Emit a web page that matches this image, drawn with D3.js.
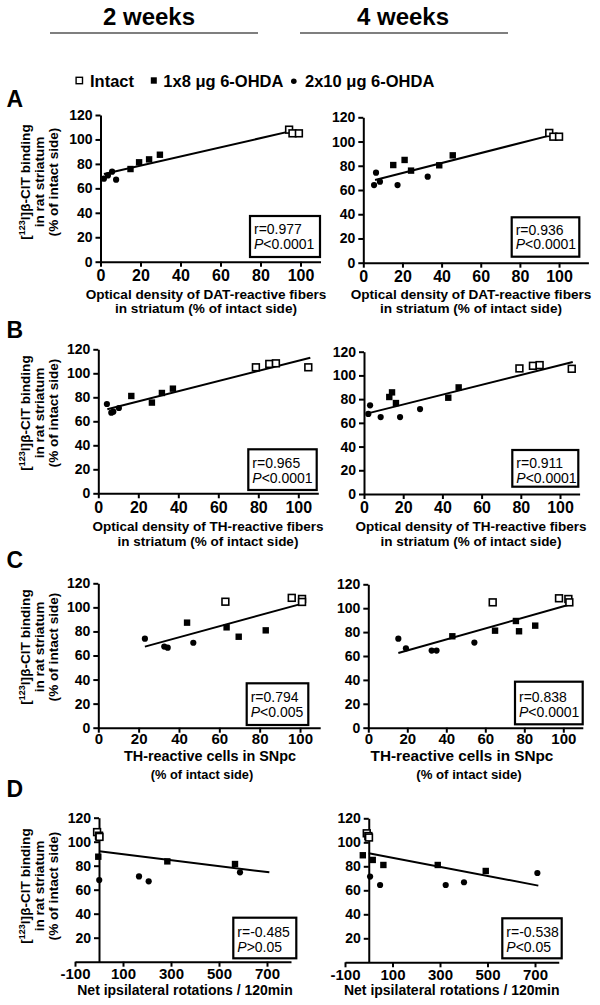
<!DOCTYPE html>
<html><head><meta charset="utf-8">
<script src="https://cdn.jsdelivr.net/npm/d3@7"></script>
<style>
body{margin:0;background:#fff;}
svg{display:block;}
</style></head><body>
<svg id="chart" width="600" height="1005"></svg>
<script>
// ---------------- DATA ----------------
const columnLabels = ["2 weeks", "4 weeks"];
const legendLabels = ["Intact", "1x8 μg 6-OHDA", "2x10 μg 6-OHDA"];
const panelLetters = ["A", "B", "C", "D"];
const yTitleLine1Pre = "[";
const yTitleLine1Sup = "123";
const yTitleLine1Post = "I]β-CIT binding";
const yTitleLines = ["in rat striatum", "(% of intact side)"];

const xTitleA = ["Optical density of DAT-reactive fibers", "in striatum (% of intact side)"];
const xTitleB = ["Optical density of TH-reactive fibers", "in striatum (% of intact side)"];
const xTitleC = ["TH-reactive cells in SNpc", "(% of intact side)"];
const xTitleD = ["Net ipsilateral rotations / 120min"];

const yTicksPct = [0, 20, 40, 60, 80, 100, 120];
const yTicksRot = [20, 40, 60, 80, 100, 120];
const xTicksPct = [0, 20, 40, 60, 80, 100];
const xTicksRot = [-100, 100, 300, 500, 700];

const statsR = ["r=0.977", "r=0.936", "r=0.965", "r=0.911", "r=0.794", "r=0.838", "r=-0.485", "r=-0.538"];
const statsP = ["<0.0001", "<0.0001", "<0.0001", "<0.0001", "<0.005", "<0.0001", ">0.05", "<0.05"];

// A: DAT fibers
const a2Intact = [[94.3,108],[96,105],[99.2,105]];
const a2Low = [[15,75.8],[19.3,81.3],[24.3,83.7],[29.7,87.5]];
const a2High = [[1.7,67.9],[3.7,70.6],[5.8,73.6],[7.8,67.1]];
const a2Fit = [[1.7,71.7],[96.3,107.2]];
const a4Intact = [[95,107.1],[97.1,104],[100,104]];
const a4Low = [[15.3,80.6],[21.1,84.8],[24.4,76],[38.8,80.4],[45.7,88.6]];
const a4High = [[5.5,64.1],[6.5,74.3],[8.5,66.9],[17.5,64.1],[32.9,71]];
const a4Fit = [[6,68.3],[97.1,105.7]];
// B: TH fibers
const b2Intact = [[78.8,105],[85.5,107.8],[88.8,108.3],[105,105]];
const b2Low = [[16.5,81.1],[26.8,75.6],[31.8,83.6],[37.3,87.2]];
const b2High = [[4.3,74.4],[6.5,67.2],[7.5,68],[10.3,71.1]];
const b2Fit = [[4.5,70],[106,113]];
const b4Intact = [[79.3,105.9],[86.2,108.1],[89.6,108.7],[106,105.6]];
const b4Low = [[12.9,81.8],[14.3,85.7],[16.3,76.7],[43,81.2],[48.3,89.9]];
const b4High = [[2.2,67.5],[3.1,74.8],[8.5,64.9],[18.4,64.9],[28.6,71.6]];
const b4Fit = [[1.4,67.8],[106.5,111.3]];
// C: TH cells
const c2Intact = [[63,104.7],[95.9,107.9],[101,107],[101,104.5]];
const c2Low = [[44,87.3],[63.6,83.4],[69.6,75.6],[83,80.9]];
const c2High = [[23.1,74],[32.7,67.4],[34.4,66.5],[47.1,70.6]];
const c2Fit = [[23.1,67.4],[102,103.5]];
const c4Intact = [[63.8,104.9],[97.8,108.3],[102.6,107.7],[103.1,104.9]];
const c4Low = [[43.1,76.5],[65,81.2],[75.7,89.3],[77.3,80.7],[85.6,85.4]];
const c4High = [[15.4,74.5],[19.3,66.4],[32.5,64.5],[35,64.5],[54.4,71.2]];
const c4Fit = [[15.4,62.5],[103.8,103.3]];
// D: rotations
const d2Intact = [[-8,108],[0,105],[2,104]];
const d2Low = [[-3,87.5],[284.7,83.6],[566.7,81.4]];
const d2High = [[1,68],[166.7,71.1],[207,67],[587.5,74.5]];
const d2Fit = [[1.4,92],[709.7,74.5]];
const d4Intact = [[-8.4,107.5],[-1.7,105.2],[1,104]];
const d4Low = [[-25,89.2],[16.8,85.3],[61.6,81.1],[290.5,81.1],[492.6,76.1]];
const d4High = [[5.6,71.4],[47.7,64.4],[324,64.4],[401,66.7],[710,74.4]];
const d4Fit = [[0,90.8],[714,63.9]];

// ---------------- LAYOUT ----------------
const FONT = "'Liberation Sans', Arial, Helvetica, sans-serif";
const panels = [
 {intact:a2Intact, low:a2Low, high:a2High, fit:a2Fit, xt:xTitleA, xTicks:xTicksPct, yTicks:yTicksPct, xd:[0,110], xr:[100.5,320.5], yr:[261.7,115], box:[250,216,70,41], sb:[233.5,248.5], tx:[206,206], tb:[299,313], ts:[13.6,13.6], xfs:16, xpad:3},
 {intact:a4Intact, low:a4Low, high:a4High, fit:a4Fit, xt:xTitleA, xTicks:xTicksPct, yTicks:yTicksPct, xd:[0,115], xr:[363.3,588.4], yr:[262.7,117.3], box:[511.7,217.3,67.6,39.4], sb:[235,249.3], tx:[471,471], tb:[299.3,313.3], ts:[13.6,13.6], xfs:16, xpad:3},
 {intact:b2Intact, low:b2Low, high:b2High, fit:b2Fit, xt:xTitleB, xTicks:xTicksPct, yTicks:yTicksPct, xd:[0,110], xr:[98.3,318.3], yr:[493.3,349.3], box:[248.3,449.3,68.4,40.7], sb:[468,482.7], tx:[208,208], tb:[531,545.5], ts:[13.5,13.5], xfs:16, xpad:3},
 {intact:b4Intact, low:b4Low, high:b4High, fit:b4Fit, xt:xTitleB, xTicks:xTicksPct, yTicks:yTicksPct, xd:[0,110], xr:[364,579.6], yr:[494,351.7], box:[512.3,450,66,36.7], sb:[468.3,483.3], tx:[471,471], tb:[531,545.5], ts:[13.5,13.5], xfs:16, xpad:3},
 {intact:c2Intact, low:c2Low, high:c2High, fit:c2Fit, xt:xTitleC, xTicks:xTicksPct, yTicks:yTicksPct, xd:[0,110], xr:[98.3,320.2], yr:[727.7,583.3], box:[246.7,683.3,61.6,41.7], sb:[701.7,716.7], tx:[210,202], tb:[761,779], ts:[14.4,12.8], xfs:15, xpad:1},
 {intact:c4Intact, low:c4Low, high:c4High, fit:c4Fit, xt:xTitleC, xTicks:xTicksPct, yTicks:yTicksPct, xd:[0,110], xr:[368.3,582.8], yr:[727.7,584.3], box:[515,681.7,67.7,42.6], sb:[701.7,716.7], tx:[462,469], tb:[761,779], ts:[15.3,13.2], xfs:15, xpad:1},
 {intact:d2Intact, low:d2Low, high:d2High, fit:d2Fit, xt:xTitleD, xTicks:xTicksRot, yTicks:yTicksRot, xd:[-100,800], xr:[75,291], yr:[961.7,817.7], box:[233.3,917.7,63,40.6], sb:[936.7,951.7], tx:[185], tb:[995], ts:[14], xfs:15, xpad:2},
 {intact:d4Intact, low:d4Low, high:d4High, fit:d4Fit, xt:xTitleD, xTicks:xTicksRot, yTicks:yTicksRot, xd:[-100,800], xr:[345,558.75], yr:[962.3,818.3], box:[502.3,918.3,59.4,40], sb:[936.7,951.7], tx:[451.7], tb:[995], ts:[14], xfs:15, xpad:2}
];
const rowYTitleCenter = [182, 413, 647, 886];
const rowLetterBase = [106.7, 338, 568, 796.5];

const svg = d3.select("#chart").style("font-family", FONT);

// Column headers
const colX = [149, 403];
svg.selectAll("text.col").data(columnLabels).enter().append("text")
  .attr("x", (d,i)=>colX[i]).attr("y", 25).attr("text-anchor","middle")
  .attr("font-size", 24).attr("font-weight","bold").text(d=>d);
const colLines = [[50,258],[300,508]];
svg.selectAll("line.col").data(colLines).enter().append("line")
  .attr("x1", d=>d[0]).attr("x2", d=>d[1]).attr("y1", 33).attr("y2", 33)
  .attr("stroke","#000").attr("stroke-width",1.2);

// Legend
const legSymX = [79.3, 153.8, 293.8];
const legTextX = [90, 163.3, 305];
legendLabels.forEach((lab, i) => {
  if (i === 0) svg.append("rect").attr("x", legSymX[i]-3.2).attr("y", 77.3).attr("width",6.4).attr("height",6.4)
      .attr("fill","#fff").attr("stroke","#000").attr("stroke-width",1.4);
  else if (i === 1) svg.append("rect").attr("x", legSymX[i]-3).attr("y", 77.3).attr("width",6).attr("height",6.4).attr("fill","#000");
  else svg.append("circle").attr("cx", legSymX[i]).attr("cy", 81.2).attr("r", 2.8).attr("fill","#000");
  svg.append("text").attr("x", legTextX[i]).attr("y", 86.7).attr("font-size", 16.5).attr("font-weight","bold").text(lab);
});

// Panel letters and y titles
panelLetters.forEach((L, r) => {
  svg.append("text").attr("x", 6.5).attr("y", rowLetterBase[r]).attr("font-size", 23).attr("font-weight","bold").text(L);
  const cy = rowYTitleCenter[r];
  const t1 = svg.append("text").attr("transform", `translate(30,${cy}) rotate(-90)`).attr("text-anchor","middle")
    .attr("font-size", 13.6).attr("font-weight","bold");
  t1.append("tspan").text(yTitleLine1Pre);
  t1.append("tspan").attr("font-size", 9).attr("dy", -5).text(yTitleLine1Sup);
  t1.append("tspan").attr("dy", 5).text(yTitleLine1Post);
  yTitleLines.forEach((s, k) => {
    svg.append("text").attr("transform", `translate(${44.3 + k*14},${cy}) rotate(-90)`).attr("text-anchor","middle")
      .attr("font-size", 13.6).attr("font-weight","bold").text(s);
  });
});

// Panels
panels.forEach((p, i) => {
  const x = d3.scaleLinear().domain(p.xd).range(p.xr);
  const y = d3.scaleLinear().domain([0,120]).range(p.yr);
  const g = svg.append("g");

  const xa = g.append("g").attr("transform", `translate(0,${y(0)})`)
    .call(d3.axisBottom(x).tickValues(p.xTicks).tickSize(5).tickSizeOuter(0).tickPadding(p.xpad).tickFormat(d=>String(d)));
  const ya = g.append("g").attr("transform", `translate(${x(0)},0)`)
    .call(d3.axisLeft(y).tickValues(p.yTicks).tickSize(5).tickSizeOuter(0).tickPadding(3).tickFormat(d=>String(d)));
  [xa, ya].forEach(a => {
    a.attr("font-family", FONT).attr("font-weight","bold");
    a.select(".domain").attr("stroke","#000").attr("stroke-width",2);
    a.selectAll(".tick line").attr("stroke","#000").attr("stroke-width",2);
    a.selectAll(".tick text").attr("fill","#000");
  });
  xa.attr("font-size", p.xfs);
  ya.attr("font-size", 14);

  // regression line
  g.append("path").datum(p.fit)
    .attr("d", d3.line().x(v=>x(v[0])).y(v=>y(v[1])))
    .attr("stroke","#000").attr("stroke-width",2).attr("fill","none");

  // markers
  g.selectAll("circle.h").data(p.high).enter().append("circle")
    .attr("cx", v=>x(v[0])).attr("cy", v=>y(v[1])).attr("r", 3.1).attr("fill","#000");
  g.selectAll("rect.l").data(p.low).enter().append("rect")
    .attr("x", v=>x(v[0])-3.2).attr("y", v=>y(v[1])-3.2).attr("width",6.4).attr("height",6.4).attr("fill","#000");
  g.selectAll("rect.o").data(p.intact).enter().append("rect")
    .attr("x", v=>x(v[0])-3.4).attr("y", v=>y(v[1])-3.4).attr("width",6.8).attr("height",6.8)
    .attr("fill","#fff").attr("stroke","#000").attr("stroke-width",1.6);

  // stats box
  g.append("rect").attr("x", p.box[0]).attr("y", p.box[1]).attr("width", p.box[2]).attr("height", p.box[3])
    .attr("fill","#fff").attr("stroke","#000").attr("stroke-width",2.2);
  g.append("text").attr("x", p.box[0]+4).attr("y", p.sb[0]).attr("font-size",14).text(statsR[i]);
  const pt = g.append("text").attr("x", p.box[0]+4).attr("y", p.sb[1]).attr("font-size",14);
  pt.append("tspan").attr("font-style","italic").text("P");
  pt.append("tspan").text(statsP[i]);

  // x title
  p.xt.forEach((s, k) => {
    g.append("text").attr("x", p.tx[k]).attr("y", p.tb[k]).attr("text-anchor","middle")
      .attr("font-size", p.ts[k]).attr("font-weight","bold").text(s);
  });
});
</script>
</body></html>
